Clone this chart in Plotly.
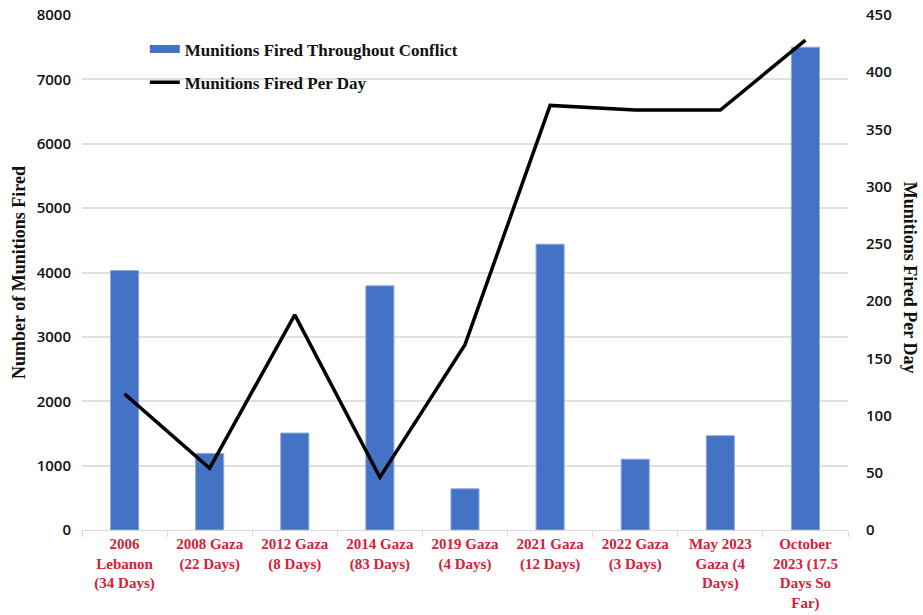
import plotly.graph_objects as go

categories = [
    "2006<br>Lebanon<br>(34 Days)",
    "2008 Gaza<br>(22 Days)",
    "2012 Gaza<br>(8 Days)",
    "2014 Gaza<br>(83 Days)",
    "2019 Gaza<br>(4 Days)",
    "2021 Gaza<br>(12 Days)",
    "2022 Gaza<br>(3 Days)",
    "May 2023<br>Gaza (4<br>Days)",
    "October<br>2023 (17.5<br>Days So<br>Far)",
]
munitions_total = [4030, 1190, 1506, 3793, 640, 4440, 1100, 1465, 7500]
munitions_per_day = [119, 54, 188, 46, 162, 371, 367, 367, 428]

left_ticks = [0, 1000, 2000, 3000, 4000, 5000, 6000, 7000, 8000]
right_ticks = [0, 50, 100, 150, 200, 250, 300, 350, 400, 450]

SERIF = "Liberation Serif"
NUM = "Open Sans"
BLUE = "#4472C4"

fig = go.Figure()
fig.add_trace(go.Bar(
    x=categories, y=munitions_total, name="Munitions Fired Throughout Conflict",
    marker=dict(color=BLUE, line=dict(color="#8FAADC", width=1)),
    showlegend=False, yaxis="y",
))
# legend-only entry so the key shows a wide flat blue bar like the original
fig.add_trace(go.Scatter(
    x=[None], y=[None], name="Munitions Fired Throughout Conflict",
    mode="lines", line=dict(color=BLUE, width=8),
    legendgroup="a", yaxis="y",
))
fig.add_trace(go.Scatter(
    x=categories, y=munitions_per_day, name="Munitions Fired Per Day",
    mode="lines", line=dict(color="black", width=3.5),
    legendgroup="b", yaxis="y2",
))

fig.update_layout(
    width=923, height=615,
    margin=dict(l=82, r=75, t=15, b=85, autoexpand=False),
    plot_bgcolor="white", paper_bgcolor="white",
    bargap=0.67,
    showlegend=True,
    legend=dict(
        x=0.082, y=0.968, xanchor="left", yanchor="top",
        bgcolor="rgba(0,0,0,0)",
        font=dict(family=SERIF, size=17, color="#111", weight="bold"),
        traceorder="grouped", tracegroupgap=8,
        itemwidth=30,
    ),
    xaxis=dict(
        type="category", automargin=False,
        tickfont=dict(family=SERIF, size=15, color="#D6203A", weight="bold"),
        showline=True, linecolor="#D9D9D9", linewidth=1,
        ticks="outside", tickson="boundaries", ticklen=6, tickcolor="#D9D9D9",
        showgrid=False,
    ),
    yaxis=dict(
        range=[0, 8000], tickvals=left_ticks, automargin=False,
        ticklabeloverflow="allow",
        tickfont=dict(family=NUM, size=15, color="#111", weight=600),
        showgrid=True, gridcolor="#E0E0E0", gridwidth=1.5,
        zeroline=False, ticklabelstandoff=10,
        title=dict(text="Number of Munitions Fired",
                   font=dict(family=SERIF, size=18, color="#111", weight="bold"),
                   standoff=6),
    ),
    yaxis2=dict(
        range=[0, 450], tickvals=right_ticks, overlaying="y", side="right",
        automargin=False, ticklabeloverflow="allow",
        tickfont=dict(family=NUM, size=15, color="#111", weight=600),
        showgrid=False, zeroline=False, ticklabelstandoff=17,
    ),
    annotations=[dict(
        text="Munitions Fired Per Day", textangle=90,
        xref="paper", yref="paper", x=1.0 + (910 - 848) / 766, y=0.49,
        xanchor="center", yanchor="middle", showarrow=False,
        font=dict(family=SERIF, size=18, color="#111", weight="bold"),
    )],
)

# remove the browser's default 8px body margin so the figure fills the window
fig.write_html("out.html", config={"displayModeBar": False},
               post_script="document.body.style.margin='0';")
